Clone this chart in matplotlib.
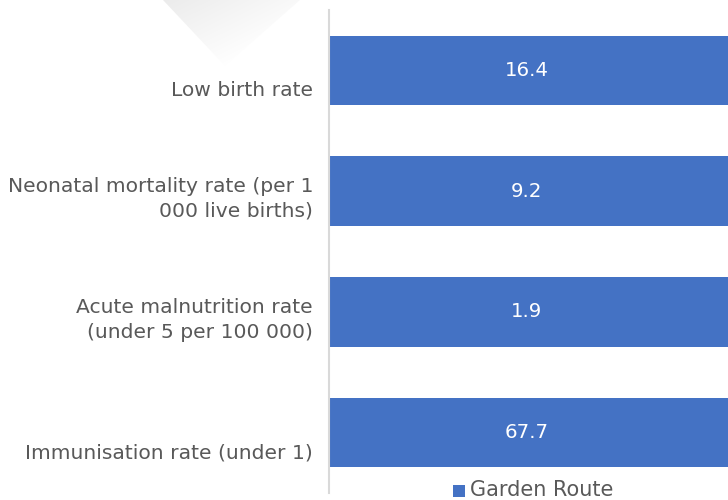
import matplotlib
matplotlib.use("Agg")
import matplotlib.pyplot as plt
import numpy as np
from matplotlib.patches import Polygon
import matplotlib.transforms as mtransforms

categories = ["Low birth rate",
              "Neonatal mortality rate (per 1\n000 live births)",
              "Acute malnutrition rate\n(under 5 per 100 000)",
              "Immunisation rate (under 1)"]
values = [16.4, 9.2, 1.9, 67.7]
series_name = "Garden Route"

plt.rcParams['font.family'] = ['DejaVu Sans']
fig = plt.figure(figsize=(7.28, 5.0), dpi=100)
W, H = 728, 500

# decorative faint triangle with gradient (background)
bg = fig.add_axes([0, 0, 1, 1], zorder=-5)
bg.set_xlim(0, W)
bg.set_ylim(H, 0)
bg.axis('off')
xs = np.linspace(160, 300, 140)
ys = np.linspace(0, 70, 70)
X, Y = np.meshgrid(xs, ys)
shade = np.clip(1 - ((X - 160) / 140 * 0.7 + Y / 70 * 0.7), 0, 1)
rgba = np.zeros(X.shape + (4,))
rgba[..., :3] = 0.925
rgba[..., 3] = shade
im = bg.imshow(rgba, extent=(160, 300, 70, 0), interpolation='bilinear', aspect='auto')
clip = Polygon([[163, 0], [300, 0], [225, 66]], closed=True, transform=bg.transData,
               facecolor='none', edgecolor='none')
bg.add_patch(clip)
im.set_clip_path(clip)

ax = fig.add_axes([329 / W, 7 / H, 1 - 329 / W, 483 / H])
ax.patch.set_alpha(0)
ypos = list(range(len(categories)))
ax.barh(ypos, values, height=0.575, color='#4472C4', zorder=2)
ax.set_ylim(3.5, -0.5)
ax.set_xlim(0, 1.5)
ax.set_yticks([])
ax.set_xticks([])
for s in ['top', 'right', 'bottom']:
    ax.spines[s].set_visible(False)
ax.spines['left'].set_color('#d9d9d9')
ax.spines['left'].set_linewidth(1.5)

# category labels (anchored below bar centre, as in the reference)
lab_trans = ax.get_yaxis_transform() + mtransforms.ScaledTranslation(-11.5 / 72, -21.5 / 72, fig.dpi_scale_trans)
for y, c in zip(ypos, categories):
    ax.text(0, y, c, transform=lab_trans, ha='right', va='bottom', multialignment='right',
            fontsize=14.6, color='#595959', linespacing=1.4)

trans = mtransforms.blended_transform_factory(ax.transAxes, ax.transData)
for y, v in zip(ypos, values):
    ax.text(0.495, y, f"{v}", transform=trans, ha='center', va='center',
            color='white', fontsize=14.2)

# legend
fig.patches.append(plt.Rectangle((453 / W, 1 - 497 / H), 12 / W, 12 / H,
                                 transform=fig.transFigure, facecolor='#4472C4', edgecolor='none'))
fig.text(470 / W, 1 - 490 / H, series_name, ha='left', va='center', fontsize=15, color='#595959')

fig.savefig("out.png", dpi=100)
